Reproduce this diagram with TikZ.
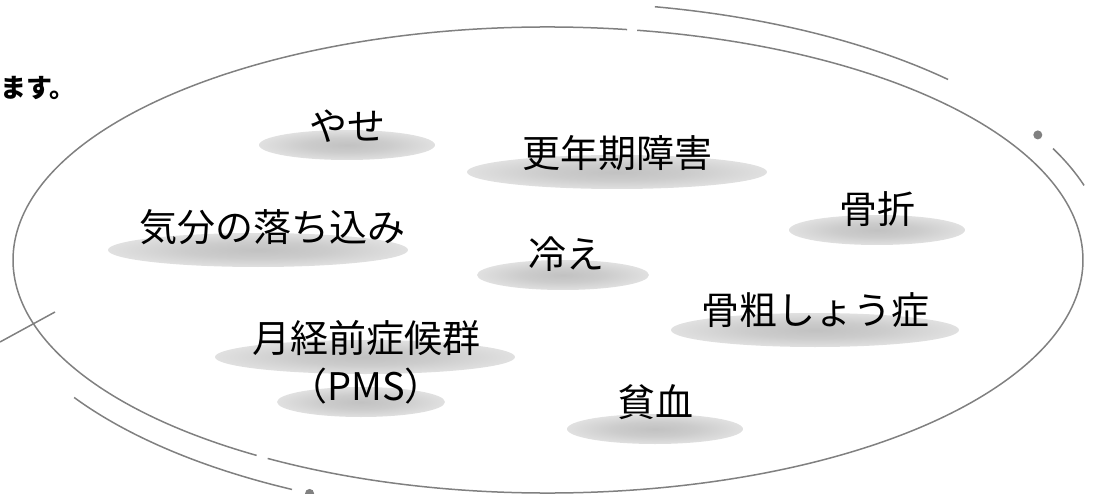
\documentclass[tikz,border=0pt]{standalone}
\usepackage{fontspec}
\newfontfamily\jp{Noto Sans CJK JP}
\pgfdeclareradialshading{softshadow}{\pgfpoint{0bp}{0bp}}{color(0bp)=(black!24); color(12bp)=(black!20); color(30bp)=(black!9); color(50bp)=(white)}
\definecolor{linegray}{RGB}{128,128,128}
\tikzset{
  ring/.style={draw=linegray, line width=1.5pt},
  ringdot/.style={fill=linegray},
  label/.style={font=\jp\fontsize{38}{48}\selectfont, text=black, inner sep=0pt, align=center},
  shadowblob/.style={shading=softshadow}
}
\begin{document}
\begin{tikzpicture}[x=1pt,y=-1pt]
\useasboundingbox (0,0) rectangle (1099,494);
\coordinate (c) at (548,260);
% shadows
\shade[shadowblob] (347,145) ellipse [x radius=88, y radius=15];
\shade[shadowblob] (617,172) ellipse [x radius=150, y radius=17];
\shade[shadowblob] (258,250) ellipse [x radius=150, y radius=17];
\shade[shadowblob] (563,275) ellipse [x radius=86, y radius=15];
\shade[shadowblob] (877,230) ellipse [x radius=88, y radius=15];
\shade[shadowblob] (815,330) ellipse [x radius=144, y radius=17];
\shade[shadowblob] (365,357) ellipse [x radius=150, y radius=17];
\shade[shadowblob] (361,402) ellipse [x radius=84, y radius=15];
\shade[shadowblob] (655,429) ellipse [x radius=88, y radius=15];
% main ellipse with two gaps
\draw[ring] (c) ++(-81.5:535 and 233) arc[start angle=-81.5, end angle=-237.0, x radius=535, y radius=233];
\draw[ring] (c) ++(-238.4:535 and 233) arc[start angle=-238.4, end angle=-440.4, x radius=535, y radius=233];
% outer arcs
\draw[ring] (c) ++(-44.4:560 and 258) arc[start angle=-44.4, end angle=-79.0, x radius=560, y radius=258];
\draw[ring] (c) ++(-16.8:560 and 258) arc[start angle=-16.8, end angle=-25.6, x radius=560, y radius=258];
\draw[ring] (c) ++(-212.2:560 and 258) arc[start angle=-212.2, end angle=-242.8, x radius=560, y radius=258];
\fill[ringdot] (c) ++(-29:560 and 258) circle[radius=4.5];
\fill[ringdot] (c) ++(-244.8:560 and 258) circle[radius=4.5];
% short left stroke
\coordinate (s1) at (0,342);
\coordinate (s2) at (55,312);
\draw[ring] (s1) -- (s2);
% texts
\node[font=\jp\bfseries\fontsize{26}{30}\selectfont, inner sep=0pt, anchor=west] (top) at (0,88) {ます。};
\node[label] (yase) at (347,126) {やせ};
\node[label] (kounen) at (617,153) {更年期障害};
\node[label] (kibun) at (272,227) {気分の落ち込み};
\node[label] (hie) at (566,254) {冷え};
\node[label] (kossetsu) at (877,209) {骨折};
\node[label] (kotsuso) at (815,310) {骨粗しょう症};
\node[label] (pms) at (366,362) {月経前症候群\\（PMS）};
\node[label] (hinketsu) at (655,402) {貧血};
\end{tikzpicture}
\end{document}
